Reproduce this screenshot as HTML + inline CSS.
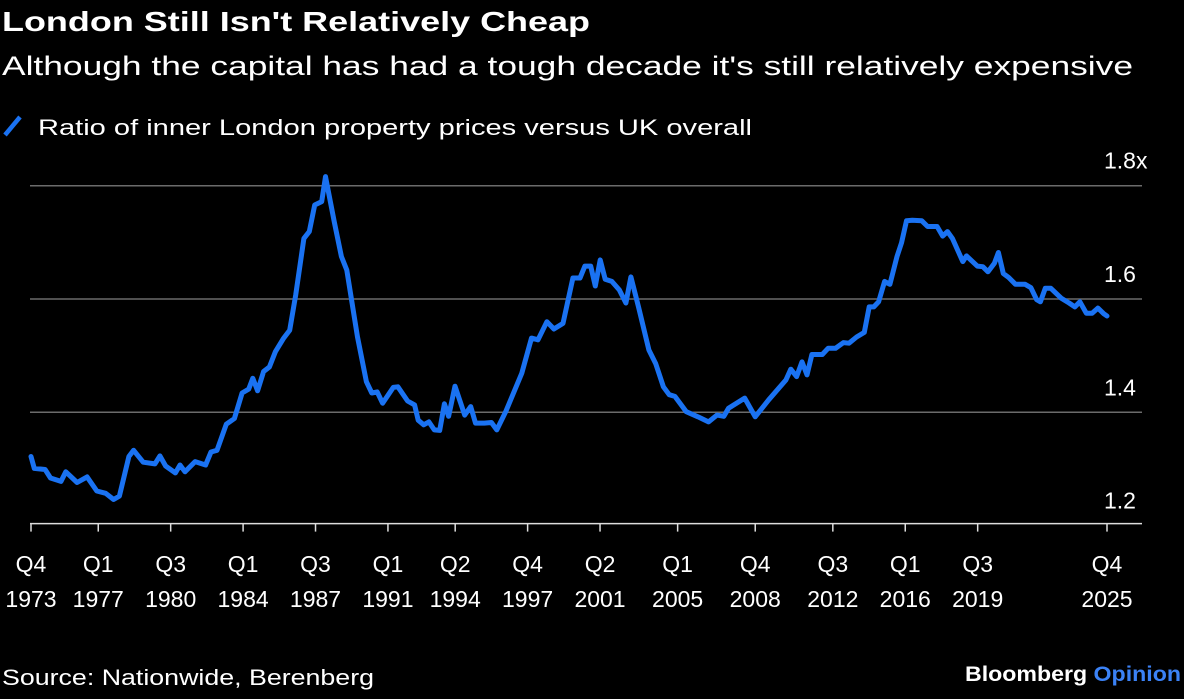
<!DOCTYPE html>
<html><head><meta charset="utf-8">
<style>
html,body{margin:0;padding:0;background:#000;}
body{width:1184px;height:694px;overflow:hidden;font-family:"Liberation Sans",sans-serif;}
svg text{font-family:"Liberation Sans",sans-serif;fill:#fff;}
</style></head>
<body>
<svg id="chart" width="1184" height="694" viewBox="0 0 1184 694" xmlns="http://www.w3.org/2000/svg">
<text x="2" y="31" font-size="28" font-weight="bold" textLength="588" lengthAdjust="spacingAndGlyphs">London Still Isn't Relatively Cheap</text>
<text x="2" y="75" font-size="27" textLength="1131" lengthAdjust="spacingAndGlyphs">Although the capital has had a tough decade it's still relatively expensive</text>
<g>
<line x1="5" y1="135" x2="20" y2="117" stroke="#1a72f2" stroke-width="4.5"/>
<text x="38" y="135" font-size="22" textLength="714" lengthAdjust="spacingAndGlyphs">Ratio of inner London property prices versus UK overall</text>
</g>
<g id="grid"></g>
<g id="xaxis"></g>
<path id="series" fill="none" stroke="#1a72f2" stroke-width="5" stroke-linejoin="round" stroke-linecap="round"/>
<text x="2" y="685" font-size="22" textLength="372" lengthAdjust="spacingAndGlyphs">Source: Nationwide, Berenberg</text>
<text x="965" y="681" font-size="21" font-weight="bold" textLength="216" lengthAdjust="spacingAndGlyphs">Bloomberg <tspan fill="#3b82f6">Opinion</tspan></text>
</svg>
<script>
// years since Q4 1973
const times = [0,0.16,0.68,0.94,1.45,1.68,2.23,2.71,3.18,3.61,3.99,4.27,4.73,4.96,5.42,5.99,6.23,6.51,6.98,7.2,7.44,7.93,8.44,8.7,8.99,9.44,9.83,10.2,10.52,10.72,10.95,11.24,11.52,11.81,12.21,12.5,12.79,13.19,13.45,13.71,14.05,14.23,14.66,15.0,15.26,15.78,16.21,16.47,16.73,16.99,17.51,17.73,18.2,18.54,18.71,18.98,19.23,19.49,19.75,19.98,20.18,20.49,20.96,21.25,21.48,21.91,22.25,22.51,22.94,23.72,24.19,24.5,24.93,25.27,25.71,26.19,26.53,26.77,27.05,27.27,27.51,27.75,28.07,28.43,28.75,28.99,29.36,29.86,30.19,30.56,30.84,31.12,31.67,32.23,32.74,33.15,33.48,33.71,34.49,35.0,35.65,36.48,36.72,37.0,37.26,37.5,37.74,38.24,38.52,38.88,39.26,39.53,39.9,40.27,40.51,40.73,40.96,41.25,41.51,41.85,42.07,42.31,42.59,43.05,43.33,43.79,44.06,44.29,44.53,45.03,45.21,45.73,46.0,46.25,46.56,46.75,46.99,47.25,47.58,48.04,48.32,48.6,48.78,49.02,49.28,49.8,50.17,50.45,50.69,51.0,51.28,51.56,51.84,52.0];
const ratios = [1.322,1.301,1.299,1.284,1.278,1.295,1.276,1.286,1.261,1.257,1.246,1.252,1.322,1.333,1.312,1.309,1.323,1.305,1.293,1.307,1.295,1.313,1.307,1.330,1.333,1.379,1.389,1.434,1.441,1.460,1.438,1.472,1.480,1.507,1.531,1.545,1.607,1.707,1.719,1.766,1.772,1.816,1.736,1.675,1.651,1.533,1.454,1.434,1.436,1.416,1.444,1.445,1.420,1.413,1.386,1.378,1.383,1.369,1.368,1.415,1.393,1.446,1.395,1.410,1.381,1.381,1.382,1.369,1.401,1.469,1.531,1.528,1.560,1.547,1.557,1.637,1.637,1.658,1.658,1.623,1.669,1.635,1.631,1.616,1.593,1.639,1.586,1.510,1.486,1.445,1.431,1.428,1.401,1.392,1.383,1.395,1.393,1.407,1.425,1.392,1.422,1.457,1.476,1.463,1.489,1.466,1.502,1.502,1.513,1.513,1.523,1.522,1.533,1.541,1.586,1.586,1.595,1.631,1.626,1.675,1.699,1.738,1.739,1.738,1.728,1.728,1.711,1.719,1.707,1.666,1.676,1.658,1.657,1.648,1.663,1.682,1.645,1.638,1.626,1.626,1.620,1.599,1.595,1.619,1.619,1.601,1.593,1.586,1.595,1.575,1.575,1.584,1.574,1.570];
const yTicks = [1.8,1.6,1.4,1.2];
const yTickLabels = ["1.8x","1.6","1.4","1.2"];
const xTickQuarters = ["Q4","Q1","Q3","Q1","Q3","Q1","Q2","Q4","Q2","Q1","Q4","Q3","Q1","Q3","Q4"];
const xTickYears = [1973,1977,1980,1984,1987,1991,1994,1997,2001,2005,2008,2012,2016,2019,2025];

const NS="http://www.w3.org/2000/svg";
const x = t => 31 + t*(1076/52);
const y = v => 185.7 + (1.8 - v)*566.5;
const grid=document.getElementById('grid');
yTicks.forEach((v,i)=>{
  if(i<3){
    const l=document.createElementNS(NS,'line');
    
    
    l.setAttribute('x1',30);l.setAttribute('x2',1142);
    l.setAttribute('y1',y(v));l.setAttribute('y2',y(v));
    l.setAttribute('stroke','#6b6b6b');l.setAttribute('stroke-width','1.5');
    grid.appendChild(l);
  }
  const t=document.createElementNS(NS,'text');
  
  
  t.setAttribute('x',1104);t.setAttribute('y',y(v)-17);
  t.setAttribute('font-size','23');
  t.textContent=yTickLabels[i];
  grid.appendChild(t);
});
const xa=document.getElementById('xaxis');
const base=y(1.2)-2;
const ax=document.createElementNS(NS,'line');


ax.setAttribute('x1',30);ax.setAttribute('x2',1142);ax.setAttribute('y1',base);ax.setAttribute('y2',base);
ax.setAttribute('stroke','#ddd');ax.setAttribute('stroke-width','1.5');
xa.appendChild(ax);
const qIdx={Q1:0,Q2:1,Q3:2,Q4:3};
xTickYears.forEach((yr,i)=>{
  const tt = yr + qIdx[xTickQuarters[i]]/4 - 1973.75;
  const px=x(tt);
  const tk=document.createElementNS(NS,'line');
  
  
  tk.setAttribute('x1',px);tk.setAttribute('x2',px);tk.setAttribute('y1',base);tk.setAttribute('y2',base+8);
  tk.setAttribute('stroke','#ddd');tk.setAttribute('stroke-width','1.5');
  xa.appendChild(tk);
  const t1=document.createElementNS(NS,'text');
  
  
  t1.setAttribute('x',px);t1.setAttribute('y',572);t1.setAttribute('font-size','23');t1.setAttribute('text-anchor','middle');
  t1.textContent=xTickQuarters[i];
  xa.appendChild(t1);
  const t2=document.createElementNS(NS,'text');
  
  
  t2.setAttribute('x',px);t2.setAttribute('y',607);t2.setAttribute('font-size','23');t2.setAttribute('text-anchor','middle');
  t2.textContent=yr;
  xa.appendChild(t2);
});
let d='';
times.forEach((t,i)=>{d+=(i?'L':'M')+x(t).toFixed(1)+' '+y(ratios[i]).toFixed(1);});
document.getElementById('series').setAttribute('d',d);
</script>
</body></html>
